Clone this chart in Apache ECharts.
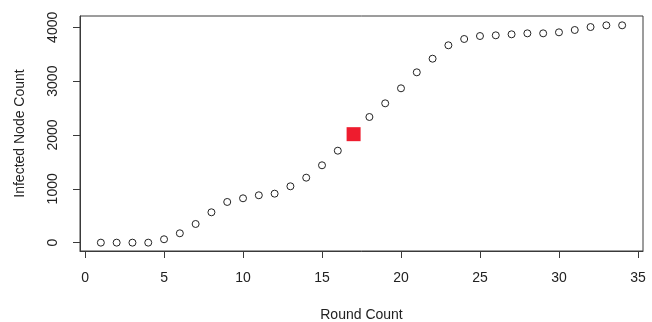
<!DOCTYPE html>
<html>
<head>
<meta charset="utf-8">
<script src="https://cdn.jsdelivr.net/npm/echarts@6/dist/echarts.min.js"></script>
<style>html,body{margin:0;padding:0;background:#fff;}#c{width:652px;height:322px;}</style>
</head>
<body>
<div id="c"></div>
<script>
const rounds = [1,2,3,4,5,6,7,8,9,10,11,12,13,14,15,16,17,18,19,20,21,22,23,24,25,26,27,28,29,30,31,32,33,34];
const infected = [0,0,0,0,63,174,347,564,756,824,880,910,1047,1207,1437,1708,2015,2334,2588,2867,3164,3417,3666,3783,3838,3851,3870,3888,3888,3907,3950,4005,4037,4037];
const highlightRound = [17];
const highlightValue = [2015];
const xTicks = [0,5,10,15,20,25,30,35];
const yTicks = [0,1000,2000,3000,4000];

const font = 'Liberation Sans, Arial, sans-serif';
const chart = echarts.init(document.getElementById('c'));
const pts = rounds.map((r,i)=>[r, infected[i]]).filter(p => !highlightRound.includes(p[0]));
chart.setOption({
  animation: false,
  grid: {left: 80, right: 9, top: 16, bottom: 71, show: true, borderColor: '#3a3a3a', borderWidth: 1,
    backgroundColor: 'transparent', containLabel: false, outerBoundsMode: 'none'},
  xAxis: {
    type: 'value', min: -0.32, max: 35.32,
    name: 'Round Count', nameLocation: 'middle', nameGap: 57,
    nameTextStyle: {fontFamily: font, fontSize: 14, color: '#222'},
    axisLine: {show: true, onZero: false, lineStyle: {color: '#3a3a3a', width: 1}},
    axisTick: {show: true, length: 7, lineStyle: {color: '#3a3a3a'}, customValues: xTicks},
    axisLabel: {fontFamily: font, fontSize: 14, color: '#222', margin: 20, customValues: xTicks,
      formatter: v => String(v)},
    splitLine: {show: false}
  },
  yAxis: {
    type: 'value', min: -155, max: 4210,
    name: 'Infected Node Count', nameLocation: 'middle', nameGap: 53, nameRotate: 90,
    nameTextStyle: {fontFamily: font, fontSize: 14, color: '#222'},
    axisLine: {show: true, onZero: false, lineStyle: {color: '#3a3a3a', width: 1}},
    axisTick: {show: true, length: 7, lineStyle: {color: '#3a3a3a'}, customValues: yTicks},
    axisLabel: {fontFamily: font, fontSize: 14, color: '#222', rotate: 90, margin: 20, customValues: yTicks,
      formatter: v => String(v)},
    splitLine: {show: false}
  },
  series: [
    {
      type: 'scatter', data: pts, symbol: 'circle', symbolSize: 7,
      itemStyle: {color: '#fff', borderColor: '#222', borderWidth: 1, opacity: 1}
    },
    {
      type: 'scatter', data: highlightRound.map((r,i)=>[r, highlightValue[i]]), symbol: 'rect', symbolSize: 14,
      itemStyle: {color: '#EE1C2E', opacity: 1}
    }
  ]
});
</script>
</body>
</html>
